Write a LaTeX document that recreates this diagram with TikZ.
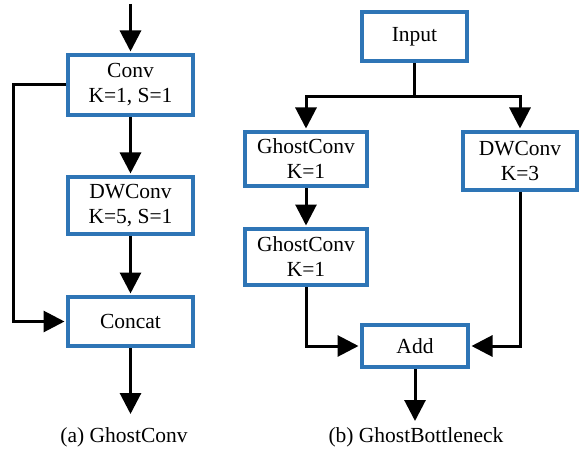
\documentclass[tikz,border=0pt]{standalone}
\usepackage{fontspec}
\setmainfont{Liberation Serif}
\newfontfamily\tnrfont{Liberation Serif}
\usetikzlibrary{arrows.meta}
\definecolor{boxblue}{HTML}{2E75B6}
\begin{document}
\begin{tikzpicture}[x=1pt,y=-1pt,
  box/.style={draw=boxblue,line width=4pt,fill=white,rectangle,align=center,inner sep=0pt,
    font=\tnrfont\fontsize{21.5}{25}\selectfont},
  conn/.style={line width=3pt,draw=black},
  arr/.style={conn,-{Triangle[length=21pt,width=21pt]},shorten >=1.5pt},
  captext/.style={font=\tnrfont\fontsize{21.5}{25}\selectfont}]
\useasboundingbox (0,0) rectangle (580,457);
% (a)
\node[box,minimum width=125pt,minimum height=60pt] (conv) at (130.5,85) {Conv\\K=1, S=1};
\node[box,minimum width=125pt,minimum height=57pt] (dw) at (130.5,205.5) {DWConv\\K=5, S=1};
\node[box,minimum width=125pt,minimum height=49pt] (cat) at (130.5,321.5) {Concat};
\coordinate (atop) at (130.5,4);
\coordinate (abot) at (130.5,414);
\coordinate (aside) at (13,85);
\draw[arr] (atop) -- (conv);
\draw[arr] (conv) -- (dw);
\draw[arr] (dw) -- (cat);
\draw[conn,-{Triangle[length=21pt,width=21pt]}] (cat) -- (abot);
\draw[arr] (conv.west) -- (aside) |- (cat.west);
\node[captext] (capa) at (124,437) {(a) GhostConv};
% (b)
\node[box,minimum width=105pt,minimum height=49pt] (in) at (414.5,36.5) {Input};
\node[box,minimum width=122pt,minimum height=54pt] (gc1) at (306,159) {GhostConv\\K=1};
\node[box,minimum width=114pt,minimum height=58pt] (dwb) at (520,161) {DWConv\\K=3};
\node[box,minimum width=122pt,minimum height=56pt] (gc2) at (306,257) {GhostConv\\K=1};
\node[box,minimum width=106pt,minimum height=42pt] (add) at (415,346) {Add};
\coordinate (split) at (414.5,97);
\coordinate (bbot) at (415,421);
\draw[conn] (in) -- (split);
\draw[arr] (split) -| (gc1);
\draw[arr] (split) -| (dwb);
\draw[arr] (gc1) -- (gc2);
\draw[arr] (gc2) |- (add);
\draw[arr] (dwb) |- (add);
\draw[conn,-{Triangle[length=21pt,width=21pt]}] (add) -- (bbot);
\node[captext] (capb) at (416,437) {(b) GhostBottleneck};
\end{tikzpicture}
\end{document}
